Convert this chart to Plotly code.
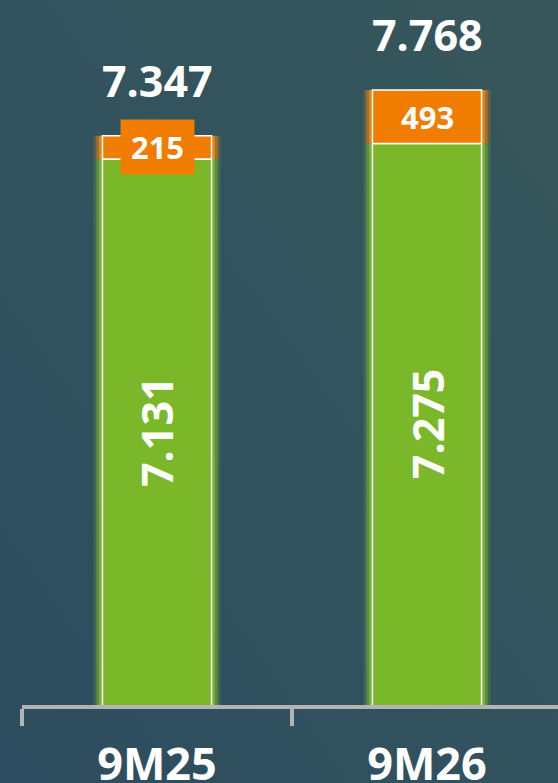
import base64
import plotly.graph_objects as go

# ---- data ----
categories = ["9M25", "9M26"]
green_values = [7131, 7275]
orange_values = [215, 493]
totals = [7347, 7768]

green_labels = ["7.131", "7.275"]
orange_labels = ["215", "493"]
total_labels = ["7.347", "7.768"]

# ---- style ----
Y_MIN, Y_MAX = 2089, 8599
GREEN = "#7ab82a"
ORANGE = "#f07d00"
FONT = "Open Sans"
BAR_W = 0.404
CAT_PX = 270

fig = go.Figure()

# glow layers
for w, a in [(0.47, 0.2), (0.45, 0.4), (0.43, 0.7)]:
    fig.add_bar(x=categories, y=green_values, base=[0, 0], width=w,
                marker=dict(color=f"rgba(130,195,45,{a})", line=dict(width=0)),
                hoverinfo="skip", showlegend=False)
fig.add_bar(x=categories, y=green_values, base=[0, 0], width=BAR_W,
            marker=dict(color=GREEN, line=dict(color="white", width=1.5)),
            showlegend=False)
for w, a in [(0.47, 0.2), (0.45, 0.4), (0.43, 0.7)]:
    fig.add_bar(x=categories, y=orange_values, base=green_values, width=w,
                marker=dict(color=f"rgba(255,140,10,{a})", line=dict(width=0)),
                hoverinfo="skip", showlegend=False)
fig.add_bar(x=categories, y=orange_values, base=green_values, width=BAR_W,
            marker=dict(color=ORANGE, line=dict(color="white", width=1.5)),
            showlegend=False)

annotations = []
for c, g, o, t, gl, ol, tl in zip(categories, green_values, orange_values, totals,
                                  green_labels, orange_labels, total_labels):
    annotations.append(dict(x=c, y=t, text=f"<b>{tl}</b>", showarrow=False,
                            yshift=55, yanchor="middle",
                            font=dict(family=FONT, size=43, color="white")))
    small = o < 300
    annotations.append(dict(x=c, y=g + o / 2, text=f"<b>{ol}</b>", showarrow=False,
                            yanchor="middle", width=71 if small else None,
                            height=52 if small else None,
                            bgcolor=ORANGE if small else "rgba(0,0,0,0)",
                            font=dict(family=FONT, size=31, color="white")))
    annotations.append(dict(x=c, y=(Y_MIN + g) / 2, text=f"<b>{gl}</b>", showarrow=False,
                            textangle=-90, yanchor="middle",
                            font=dict(family=FONT, size=43, color="white")))

svg = ('<svg xmlns="http://www.w3.org/2000/svg" width="558" height="783">'
       '<defs><linearGradient id="g" x1="1" y1="0" x2="0" y2="1">'
       '<stop offset="0" stop-color="#37575b"/><stop offset="1" stop-color="#2d4d60"/>'
       '</linearGradient></defs><rect width="558" height="783" fill="url(#g)"/></svg>')
src = "data:image/svg+xml;base64," + base64.b64encode(svg.encode()).decode()

L, R, T, B = 22, 0, 0, 78
W, H = 558, 783
pw, ph = W - L - R, H - T - B

fig.update_layout(
    width=W, height=H,
    margin=dict(l=L, r=R, t=T, b=B, pad=0, autoexpand=False),
    barmode="overlay",
    paper_bgcolor="#33535e",
    plot_bgcolor="rgba(0,0,0,0)",
    showlegend=False,
    annotations=annotations,
    images=[dict(source=src, xref="paper", yref="paper",
                 x=-L / pw, y=1 + T / ph, sizex=W / pw, sizey=H / ph,
                 xanchor="left", yanchor="top", sizing="stretch", layer="below")],
    xaxis=dict(type="category", range=[-0.5, -0.5 + pw / CAT_PX], showgrid=False,
               zeroline=False, showline=True, linecolor="#b3b3b3", linewidth=4,
               ticks="outside", tickson="boundaries", ticklen=17, tickwidth=4,
               tickcolor="#b3b3b3", ticklabelstandoff=17, automargin=False,
               tickfont=dict(family=FONT, size=45, color="white", weight="bold"),
               fixedrange=True),
    yaxis=dict(range=[Y_MIN, Y_MAX], visible=False, fixedrange=True, automargin=False),
)

fig.write_html("out.html", config={"displayModeBar": False},
               post_script="document.body.style.margin='0';document.body.style.overflow='hidden';")
